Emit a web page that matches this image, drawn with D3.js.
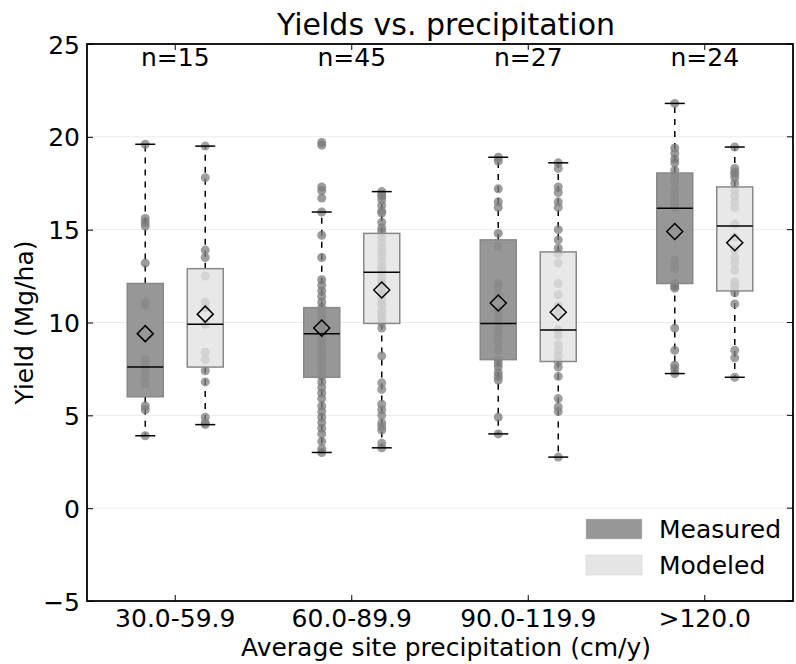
<!DOCTYPE html>
<html><head><meta charset="utf-8">
<script src="https://cdn.jsdelivr.net/npm/d3@7"></script>
<style>body{margin:0;background:#fff}svg{display:block}text{font-family:"DejaVu Sans",sans-serif;fill:#000}</style>
</head><body><svg id="c" width="796" height="664"></svg>
<script>
const categories = ["30.0-59.9","60.0-89.9","90.0-119.9",">120.0"];
const nLabels = ["n=15","n=45","n=27","n=24"];
const yTicks = [-5,0,5,10,15,20,25];
const seriesNames = ["Measured","Modeled"];
// box stats: [whiskerLow, q1, median, q3, whiskerHigh, mean]
const measuredStats = [[3.9,6.0,7.6,12.1,19.6,9.4],[3.0,7.05,9.4,10.8,15.95,9.7],[4.0,8.0,9.95,14.45,18.9,11.05],[7.25,12.1,16.15,18.05,21.8,14.9]];
const modeledStats  = [[4.5,7.6,9.9,12.9,19.5,10.45],[3.25,9.95,12.7,14.8,17.05,11.75],[2.75,7.9,9.6,13.8,18.6,10.55],[7.05,11.7,15.2,17.3,19.45,14.3]];
const measuredPts = [
 [19.6,15.6,15.4,15.2,13.2,11.1,10.9,8.0,7.7,7.4,7.05,6.7,5.5,5.3,3.9],
 [19.7,19.55,17.3,17.1,16.7,15.95,14.7,13.5,12.3,12.0,11.7,11.4,11.1,10.8,10.5,10.3,10.1,9.9,9.7,9.5,9.3,9.1,8.9,8.7,8.5,8.3,8.1,7.9,7.7,7.5,7.3,7.1,6.8,6.5,6.2,5.9,5.5,5.2,4.9,4.6,4.3,4.0,3.6,3.2,3.0],
 [18.9,18.7,17.2,16.5,16.2,14.8,14.1,12.1,11.9,11.5,10.3,10.0,9.8,9.5,9.2,8.9,8.5,8.0,7.8,7.6,7.3,7.1,6.9,4.9,4.0,10.6,12.0],
 [21.8,19.4,19.1,18.8,18.6,17.9,17.6,17.2,16.9,16.6,16.4,13.35,13.1,12.9,12.1,11.95,11.85,9.7,8.5,7.7,7.5,7.25,16.2,18.2]
];
const modeledPts = [
 [19.5,17.8,13.9,13.5,12.5,11.1,10.8,9.9,8.4,8.0,7.4,6.8,4.9,4.6,4.5],
 [17.05,16.8,16.6,16.3,16.0,15.1,14.6,14.3,14.0,13.6,13.3,13.0,12.7,12.4,12.1,11.8,11.5,11.2,10.9,10.6,10.3,10.0,9.7,8.2,6.75,6.4,5.3,5.0,4.6,4.2,3.25,15.4,13.8,12.2,11.0,10.5,16.9,15.9,14.9,12.9,11.6,10.2,5.6,4.4,3.5],
 [18.6,18.3,17.0,16.5,16.2,15.0,14.45,13.2,12.1,11.5,10.5,9.6,8.8,8.5,8.2,7.9,7.6,7.1,5.9,5.45,5.2,2.75,9.3,10.9,14.0,17.3,13.7],
 [19.45,18.3,18.0,17.8,17.1,16.8,16.5,16.2,15.3,13.9,13.5,13.2,12.8,12.2,11.9,11.6,11.0,8.5,8.1,7.05,18.1,14.6,12.0,17.5]
];

const svg = d3.select("#c");
const L=87, R=793, T=44, B=601;
const x = d3.scaleBand().domain(categories).range([L,R]).paddingInner(0).paddingOuter(0);
const y = d3.scaleLinear().domain([-5,25]).range([B,T]);
const off = 30, bw = 36, capW = 20;

// grid
svg.append("g").selectAll("line").data(yTicks.filter(t=>t>-5&&t<25)).join("line")
 .attr("x1",L).attr("x2",R).attr("y1",d=>y(d)).attr("y2",d=>y(d))
 .attr("stroke","#ebebeb").attr("stroke-width",1);

const series = [
 {stats:measuredStats, pts:measuredPts, dx:-off, fill:"#8c8c8c", fo:0.9, ptFill:"#7a7a7a", ptOp:0.75},
 {stats:modeledStats, pts:modeledPts, dx:off, fill:"#e2e2e2", fo:0.78, ptFill:"#7f7f7f", ptOp:0.75}
];
const cx = (c)=>x(c)+x.bandwidth()/2;

series.forEach(s=>{
 const g = svg.append("g");
 categories.forEach((c,i)=>{
  const X = cx(c)+s.dx, st = s.stats[i];
  g.append("line").attr("x1",X).attr("x2",X).attr("y1",y(st[3])).attr("y2",y(st[4]))
   .attr("stroke","#000").attr("stroke-width",1.5).attr("stroke-dasharray","6,6");
  g.append("line").attr("x1",X).attr("x2",X).attr("y1",y(st[1])).attr("y2",y(st[0]))
   .attr("stroke","#000").attr("stroke-width",1.5).attr("stroke-dasharray","6,6");
  g.selectAll(null).data(s.pts[i]).join("circle")
   .attr("cx",X).attr("cy",d=>y(d)).attr("r",4.5)
   .attr("fill",s.ptFill).attr("fill-opacity",s.ptOp);
  [st[0],st[4]].forEach(v=>g.append("line").attr("x1",X-capW/2).attr("x2",X+capW/2)
   .attr("y1",y(v)).attr("y2",y(v)).attr("stroke","#000").attr("stroke-width",1.5));
  g.append("rect").attr("x",X-bw/2).attr("width",bw).attr("y",y(st[3])).attr("height",y(st[1])-y(st[3]))
   .attr("fill",s.fill).attr("fill-opacity",s.fo).attr("stroke","#888").attr("stroke-width",1.5);
  g.append("line").attr("x1",X-bw/2).attr("x2",X+bw/2).attr("y1",y(st[2])).attr("y2",y(st[2]))
   .attr("stroke","#000").attr("stroke-width",1.5);
  const my = y(st[5]), r=8;
  g.append("path").attr("d",`M${X},${my-r}L${X+r},${my}L${X},${my+r}L${X-r},${my}Z`)
   .attr("fill","none").attr("stroke","#000").attr("stroke-width",1.5);
 });
});

// frame
svg.append("rect").attr("x",L).attr("y",T).attr("width",R-L).attr("height",B-T)
 .attr("fill","none").attr("stroke","#000").attr("stroke-width",1.8);

// axes
const yAx = svg.append("g").attr("transform",`translate(${L},0)`)
 .call(d3.axisLeft(y).tickValues(yTicks).tickSize(-6).tickPadding(7).tickFormat(d=>d<0?"\u2212"+Math.abs(d):d));
yAx.select(".domain").remove();
yAx.selectAll("text").style("font-size","25px").attr("dy","0.36em");
yAx.selectAll("line").attr("stroke","#000");
const xAx = svg.append("g").attr("transform",`translate(0,${B})`)
 .call(d3.axisBottom(x).tickSize(-6).tickPadding(8));
xAx.select(".domain").remove();
xAx.selectAll("text").style("font-size","25px");
xAx.selectAll("line").attr("stroke","#000");
svg.append("g").selectAll("line").data(categories).join("line")
 .attr("x1",d=>cx(d)).attr("x2",d=>cx(d)).attr("y1",T).attr("y2",T+6).attr("stroke","#000");
svg.append("g").selectAll("line").data(yTicks).join("line")
 .attr("x1",R).attr("x2",R-6).attr("y1",d=>y(d)).attr("y2",d=>y(d)).attr("stroke","#000");

// n labels
svg.append("g").selectAll("text").data(nLabels).join("text")
 .attr("x",(d,i)=>cx(categories[i])).attr("y",66).attr("text-anchor","middle")
 .style("font-size","25px").text(d=>d);

// title & labels
svg.append("text").attr("x",(L+R)/2+6).attr("y",35).attr("text-anchor","middle").style("font-size","30px").text("Yields vs. precipitation");
svg.append("text").attr("x",(L+R)/2+6).attr("y",656).attr("text-anchor","middle").style("font-size","25px").text("Average site precipitation (cm/y)");
svg.append("text").attr("transform",`translate(33,${(T+B)/2}) rotate(-90)`).attr("text-anchor","middle").style("font-size","25px").text("Yield (Mg/ha)");

// legend
const leg = svg.append("g");
const legFill = [["#8c8c8c",0.9],["#e2e2e2",0.9]];
seriesNames.forEach((n,i)=>{
 const yy = 519 + i*36;
 leg.append("rect").attr("x",586).attr("y",yy).attr("width",56).attr("height",20)
  .attr("fill",legFill[i][0]).attr("fill-opacity",legFill[i][1]).attr("stroke","#ccc").attr("stroke-width",0.5);
 leg.append("text").attr("x",659).attr("y",yy+19).style("font-size","25px").text(n);
});
</script></body></html>
